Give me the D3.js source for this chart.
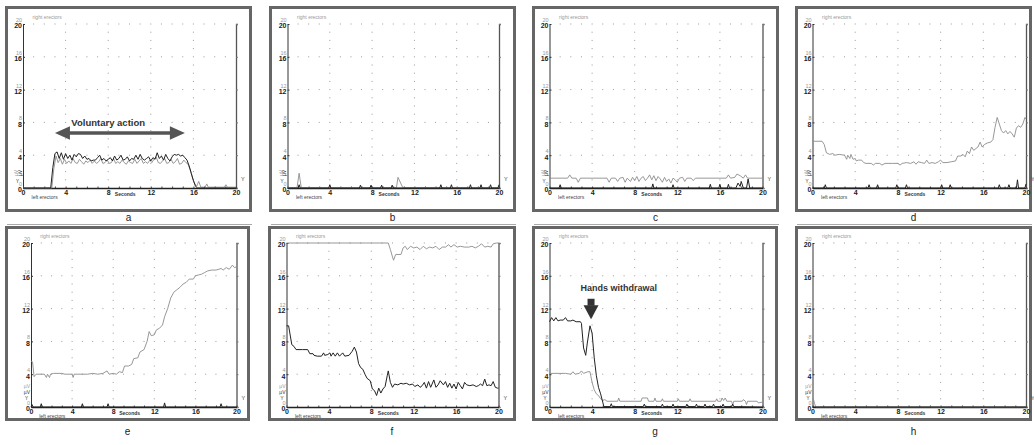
<!DOCTYPE html>
<html>
<head>
<meta charset="utf-8">
<script src="https://cdnjs.cloudflare.com/ajax/libs/d3/7.8.5/d3.min.js"></script>
<style>
body { margin: 0; background: #fff; }
svg { display: block; font-family: Arial, "Liberation Sans", sans-serif; }
</style>
</head>
<body>
<svg width="1034" height="445"></svg>
<script>
// panel letters and axis ticks
var panelLetters = ['a', 'b', 'c', 'd', 'e', 'f', 'g', 'h'];
var yTicks = [0, 4, 8, 12, 16, 20];
var xTicks = [0, 4, 8, 12, 16, 20];

// [seconds, microvolts]
var aLeft = [[0,0],[2.6,0],[2.8,2.5],[3.0,4.2],[3.2,4.4],[3.4,3.6],[3.6,4.3],[3.8,3.5],[4.0,4.2],[4.2,3.6],[4.4,4.0],[4.6,3.4],[4.8,4.1],[5.0,3.8],[5.2,4.2],[5.4,4.1],[5.6,3.6],[5.8,3.9],[6.0,3.5],[6.2,3.6],[6.4,3.3],[6.6,3.4],[6.8,3.4],[7.0,3.7],[7.2,4.0],[7.4,3.4],[7.6,3.6],[7.8,3.3],[8.0,3.5],[8.2,3.7],[8.4,3.3],[8.6,3.9],[8.8,3.4],[9.0,3.6],[9.2,4.0],[9.4,3.4],[9.6,3.5],[9.8,3.8],[10.0,3.3],[10.2,3.6],[10.4,3.5],[10.6,4.0],[10.8,3.5],[11.0,4.1],[11.2,3.6],[11.4,3.4],[11.6,3.6],[11.8,3.8],[12.0,3.3],[12.2,3.7],[12.4,3.5],[12.6,4.3],[12.8,3.6],[13.0,3.9],[13.2,3.4],[13.4,4.1],[13.6,3.6],[13.8,3.3],[14.0,3.8],[14.2,4.1],[14.4,4.0],[14.6,4.1],[14.8,3.9],[15.0,4.0],[15.2,3.7],[15.4,3.4],[15.6,2.7],[15.8,1.8],[16.0,0.9],[16.2,0.2],[16.4,0],[20,0]];
var aRight = [[0,0],[2.7,0],[2.9,2.4],[3.1,3.9],[3.3,3.1],[3.5,3.6],[3.7,2.9],[3.9,3.5],[4.1,3.0],[4.3,3.3],[4.5,3.0],[4.7,3.6],[4.9,3.1],[5.1,3.0],[5.3,3.5],[5.5,3.2],[5.7,2.9],[5.9,3.3],[6.1,3.1],[6.3,3.4],[6.5,3.0],[6.7,3.3],[6.9,3.0],[7.1,3.2],[7.3,3.6],[7.5,3.0],[7.7,3.1],[7.9,3.4],[8.1,3.0],[8.3,3.1],[8.5,3.6],[8.7,3.0],[8.9,3.2],[9.1,3.0],[9.3,3.4],[9.5,3.1],[9.7,2.9],[9.9,3.3],[10.1,3.1],[10.3,3.0],[10.5,3.5],[10.7,3.0],[10.9,3.3],[11.1,3.6],[11.3,3.0],[11.5,3.2],[11.7,3.0],[11.9,3.4],[12.1,3.1],[12.3,3.5],[12.5,3.8],[12.7,3.1],[12.9,3.0],[13.1,3.3],[13.3,3.6],[13.5,3.0],[13.7,3.1],[13.9,3.5],[14.1,3.0],[14.3,3.2],[14.5,3.6],[14.7,2.9],[14.9,3.0],[15.1,3.4],[15.3,3.1],[15.5,2.9],[15.7,2.2],[15.9,1.3],[16.1,0.6],[16.3,0.2],[16.5,0.8],[16.7,0.1],[17.1,0.1],[17.25,0.5],[17.4,0.1],[18.9,0.1],[19.05,0.4],[19.2,0.1],[20,0.1]];

var bLeft = [[0,0],[1.0,0],[1.1,0.4],[1.2,0],[3.9,0],[4.0,0.4],[4.1,0],[6.8,0],[6.9,0.35],[7.0,0],[7.8,0],[7.9,0.35],[8.0,0],[8.8,0],[8.9,0.35],[9.0,0],[9.8,0],[9.9,0.35],[10.0,0],[14.4,0],[14.5,0.4],[14.6,0],[15.4,0],[15.5,0.4],[15.6,0],[17.2,0],[17.3,0.4],[17.4,0],[18.2,0],[18.3,0.4],[18.4,0],[19.1,0],[19.2,0.4],[19.3,0],[19.9,0],[20,0.4]];
var bRight = [[0,0.05],[0.9,0.05],[1.1,1.8],[1.3,0.05],[10.3,0.05],[10.45,1.3],[10.7,0.6],[10.9,0.05],[20,0.05]];

var cLeft = [[0,0],[0.9,0],[1.0,0.4],[1.1,0],[9.6,0],[9.7,0.5],[9.8,0],[11.5,0],[11.6,0.4],[11.7,0],[15.0,0],[15.1,0.45],[15.2,0],[15.9,0],[16.0,0.45],[16.1,0],[16.7,0],[16.8,0.45],[16.9,0],[17.5,0],[17.7,0.6],[17.9,0.2],[18.0,0.8],[18.2,0],[18.5,0],[18.65,1.1],[18.8,0],[20,0]];
var cRight = [[0,1.2],[1.7,1.2],[1.9,1.6],[2.1,1.2],[2.5,1.2],[2.7,0.7],[2.9,1.2],[5.4,1.2],[5.6,0.7],[5.8,1.2],[6.2,1.2],[6.4,0.8],[6.6,1.2],[6.9,1.3],[7.1,0.7],[7.3,1.2],[7.6,0.8],[7.8,1.3],[8.0,0.9],[8.2,1.4],[8.4,0.8],[8.6,1.2],[8.8,1.4],[9.0,0.9],[9.2,1.2],[9.4,1.6],[9.6,1.0],[9.8,1.5],[10.0,0.9],[10.2,1.4],[10.4,1.1],[10.6,0.7],[10.8,1.3],[11.0,0.8],[11.2,1.1],[11.4,0.6],[11.6,1.2],[11.8,1.0],[12.0,0.7],[12.2,1.2],[12.5,1.3],[12.7,0.8],[12.9,1.2],[13.3,1.2],[13.5,0.9],[13.7,1.2],[16.6,1.2],[16.8,1.6],[17.0,1.2],[17.4,1.3],[17.6,1.7],[17.9,1.5],[18.2,1.2],[18.4,1.6],[18.6,1.2],[20,1.2]];

var dLeft = [[0,0],[1.1,0],[1.2,0.4],[1.3,0],[5.2,0],[5.3,0.4],[5.4,0],[6.0,0],[6.1,0.4],[6.2,0],[7.8,0],[7.9,0.4],[8.0,0],[8.7,0],[8.8,0.4],[8.9,0],[12.0,0],[12.1,0.4],[12.2,0],[12.8,0],[12.9,0.4],[13.0,0],[17.4,0],[17.5,0.4],[17.6,0],[18.3,0],[18.4,0.4],[18.5,0],[19.1,0],[19.2,1.0],[19.3,0],[19.9,0],[20,0.5]];
var dRight = [[0,5.7],[0.9,5.7],[1.1,5.3],[1.3,4.3],[1.6,4.1],[1.9,4.2],[2.1,4.0],[2.5,4.1],[3.0,4.0],[3.2,3.5],[3.3,4.0],[3.5,3.6],[3.6,4.1],[3.8,3.5],[4.0,3.6],[4.1,3.3],[4.3,3.4],[4.6,3.4],[4.8,3.1],[5.0,3.0],[5.5,3.0],[5.7,2.8],[5.9,3.0],[6.3,3.0],[6.5,2.8],[6.8,3.0],[7.5,3.0],[8.0,3.0],[8.2,2.8],[8.4,3.0],[8.8,3.1],[9.2,3.0],[9.5,3.2],[9.7,2.9],[9.9,3.2],[10.2,3.1],[10.5,3.0],[10.7,3.4],[10.9,3.0],[11.2,3.1],[11.5,3.0],[11.8,3.2],[12.0,3.4],[12.2,3.1],[12.6,3.1],[13.0,3.2],[13.4,3.3],[13.6,3.9],[13.9,3.9],[14.1,4.1],[14.3,3.8],[14.5,4.5],[14.7,4.2],[14.9,5.0],[15.1,4.6],[15.3,4.8],[15.5,5.0],[15.7,5.6],[15.9,5.0],[16.1,5.3],[16.4,5.5],[16.7,5.6],[16.9,5.9],[17.1,7.4],[17.3,8.6],[17.5,7.8],[17.7,7.0],[17.9,6.7],[18.1,7.0],[18.3,6.6],[18.5,6.9],[18.7,6.6],[18.9,6.2],[19.1,7.3],[19.3,7.6],[19.5,7.4],[19.7,7.8],[19.9,8.6],[20,8.4]];

var eLeft = [[0,0],[0.1,0.3],[0.2,0],[0.9,0],[1.0,0.4],[1.1,0],[4.9,0],[5.0,0.4],[5.1,0],[7.4,0],[7.5,0.4],[7.6,0],[12.9,0],[13.0,0.5],[13.1,0],[18.4,0],[18.5,0.4],[18.6,0],[20,0]];
var eRight = [[0,5.6],[0.15,5.5],[0.3,3.7],[0.5,4.0],[1.3,4.0],[1.5,3.6],[1.6,4.0],[1.8,3.6],[1.9,4.0],[2.2,4.1],[3.0,4.1],[3.3,4.0],[4.0,4.0],[4.1,3.6],[4.2,4.0],[5.0,4.0],[5.5,4.0],[6.0,4.1],[6.5,4.0],[7.0,4.1],[7.4,4.4],[7.6,4.0],[8.0,4.1],[8.3,4.0],[8.6,4.3],[8.9,4.2],[9.1,5.0],[9.5,5.0],[9.8,5.2],[10.0,5.9],[10.4,6.0],[10.6,6.7],[11.0,7.0],[11.3,8.0],[11.5,9.2],[11.7,8.7],[12.0,8.8],[12.2,9.4],[12.5,9.6],[12.8,10.0],[13.0,11.0],[13.3,12.0],[13.6,13.3],[13.9,14.0],[14.2,14.3],[14.5,14.6],[14.8,15.0],[15.1,15.2],[15.4,15.6],[15.8,15.6],[16.0,16.0],[16.3,16.1],[16.6,16.2],[16.9,16.4],[17.2,16.6],[17.6,16.7],[18.0,16.7],[18.3,16.8],[18.5,16.9],[18.7,16.7],[19.0,17.0],[19.3,16.8],[19.6,17.3],[19.8,17.0],[20,17.1]];

var fLeft = [[0,9.9],[0.2,9.9],[0.5,7.6],[0.7,7.4],[0.9,7.0],[1.5,7.0],[2.0,7.0],[2.2,6.5],[2.5,6.5],[2.6,6.3],[2.9,6.2],[3.3,6.2],[3.5,6.6],[3.6,6.3],[3.9,6.4],[4.1,6.6],[4.2,6.2],[4.4,6.6],[4.6,6.2],[4.8,6.6],[5.0,6.2],[5.3,6.6],[5.5,6.2],[5.9,6.3],[6.2,6.8],[6.4,7.3],[6.6,6.7],[6.8,5.3],[7.0,4.8],[7.2,4.6],[7.4,4.0],[7.6,3.5],[7.9,3.2],[8.1,2.2],[8.3,2.0],[8.5,1.4],[8.7,2.3],[8.9,1.7],[9.1,2.2],[9.3,2.5],[9.5,3.8],[9.6,4.4],[9.8,3.0],[10.0,2.4],[10.2,2.8],[10.5,2.7],[10.8,2.9],[11.0,2.8],[11.3,2.9],[11.6,2.7],[11.9,2.8],[12.1,2.5],[12.4,2.7],[12.6,2.4],[12.8,2.6],[13.0,3.0],[13.2,2.3],[13.4,3.1],[13.6,2.4],[13.9,3.3],[14.1,2.4],[14.3,2.7],[14.5,3.2],[14.8,2.7],[15.0,3.1],[15.2,2.4],[15.4,2.9],[15.6,2.3],[15.8,2.8],[16.0,2.2],[16.2,3.0],[16.4,2.6],[16.6,2.2],[16.8,3.0],[17.0,2.7],[17.3,2.6],[17.6,2.7],[17.9,2.5],[18.1,2.6],[18.3,2.8],[18.5,2.6],[18.7,3.4],[18.9,2.6],[19.1,2.7],[19.3,2.6],[19.5,3.1],[19.7,2.4],[19.9,2.3],[20,2.3]];
var fRight = [[0,20],[9.6,20],[9.8,19.2],[10.0,18.3],[10.1,17.9],[10.3,18.6],[10.8,18.6],[11.0,19.4],[11.2,19.6],[11.4,19.2],[11.7,19.6],[12.0,19.4],[12.3,19.5],[12.6,19.2],[12.9,19.6],[13.2,19.3],[13.5,19.5],[13.8,19.4],[14.1,19.6],[14.4,19.2],[14.7,19.5],[15.0,19.5],[15.3,19.8],[15.5,19.5],[15.8,19.8],[16.1,19.5],[16.4,19.6],[16.8,19.5],[17.2,19.5],[17.5,19.6],[17.8,19.4],[18.1,19.6],[18.4,19.9],[18.7,19.5],[19.0,19.6],[19.3,19.5],[19.5,19.9],[19.8,20],[20,20]];

var gLeft = [[0,10.4],[0.2,10.9],[0.4,10.5],[0.6,10.9],[0.8,10.5],[1.0,10.6],[1.3,10.6],[1.5,10.9],[1.7,10.5],[2.0,10.5],[2.2,10.6],[2.5,10.4],[2.9,10.4],[3.0,10.2],[3.2,7.2],[3.4,6.3],[3.55,7.8],[3.8,9.9],[4.0,9.0],[4.2,6.0],[4.4,3.8],[4.6,2.4],[4.8,1.6],[5.0,0.6],[5.1,0.05],[5.7,0.05],[5.8,0.4],[5.9,0.05],[8.8,0.05],[8.9,0.35],[9.0,0.05],[10.5,0.05],[10.6,0.35],[10.7,0.05],[11.5,0.05],[11.6,0.35],[11.7,0.05],[12.8,0.05],[12.9,0.35],[13.0,0.05],[13.7,0.05],[13.8,0.35],[13.9,0.05],[14.5,0.05],[14.6,0.35],[14.7,0.05],[15.3,0.05],[15.4,0.35],[15.5,0.05],[16.2,0.05],[16.3,0.35],[16.4,0.05],[17.1,0.05],[17.2,0.35],[17.3,0.05],[20,0]];
var gRight = [[0,4.1],[1.5,4.1],[2.0,4.0],[2.2,4.3],[2.4,4.0],[2.8,4.1],[3.0,4.4],[3.2,4.1],[3.6,4.3],[3.8,4.3],[4.0,3.0],[4.2,2.1],[4.4,1.6],[4.6,1.4],[4.8,1.0],[5.0,0.8],[5.2,0.9],[5.4,0.7],[6.4,0.7],[6.5,1.1],[6.6,0.7],[8.6,0.7],[8.7,1.1],[9.2,1.1],[9.3,0.7],[9.8,0.7],[9.9,1.1],[10.0,0.7],[10.5,0.7],[10.6,1.0],[10.7,0.7],[12.0,0.7],[12.1,1.0],[12.2,0.7],[13.1,0.7],[13.2,1.0],[13.3,0.7],[15.6,0.7],[15.7,1.0],[15.8,0.7],[16.1,0.7],[16.2,1.1],[16.35,0.8],[16.5,1.1],[16.65,0.7],[17.1,0.7],[17.2,0.2],[17.3,0.7],[18.1,0.7],[18.2,0.9],[18.4,0.7],[18.5,0.3],[18.6,0.7],[19.5,0.7],[19.6,0.5],[20,0.6]];

var hLeft = [[0,0],[20,0]];
var hRight = [[0,1.1],[0.1,0.9],[0.2,0.4],[0.3,0],[20,0]];

var leftSeries = [aLeft, bLeft, cLeft, dLeft, eLeft, fLeft, gLeft, hLeft];
var rightSeries = [aRight, bRight, cRight, dRight, eRight, fRight, gRight, hRight];

// frame box and plot area of each panel
var panels = [
  {fx: 5,   fy: 6,   fw: 247, fh: 206, x0: 23,    x1: 236,   top: 24,  bot: 188, row: 0},
  {fx: 269, fy: 6,   fw: 247, fh: 206, x0: 287.5, x1: 499,   top: 24,  bot: 188, row: 0},
  {fx: 532, fy: 6,   fw: 247, fh: 206, x0: 549.5, x1: 762.5, top: 24,  bot: 188, row: 0},
  {fx: 795, fy: 6,   fw: 237, fh: 206, x0: 812.5, x1: 1026,  top: 24,  bot: 188, row: 0},
  {fx: 5,   fy: 226, fw: 245, fh: 195, x0: 31,    x1: 236.5, top: 243, bot: 407, row: 1},
  {fx: 268, fy: 226, fw: 248, fh: 195, x0: 286.5, x1: 498.5, top: 243, bot: 407, row: 1},
  {fx: 532, fy: 226, fw: 246, fh: 195, x0: 549.5, x1: 762.5, top: 243, bot: 407, row: 1},
  {fx: 795, fy: 226, fw: 237, fh: 195, x0: 812.5, x1: 1026,  top: 243, bot: 407, row: 1}
];

var svg = d3.select('svg');

panels.forEach(function(p, i) {
  var g = svg.append('g');
  var x = d3.scaleLinear().domain([0, 20]).range([p.x0, p.x1]);
  var y = d3.scaleLinear().domain([0, 20]).range([p.bot, p.top]);

  g.append('rect')
    .attr('x', p.fx + 1.5).attr('y', p.fy + 1.5)
    .attr('width', p.fw - 3).attr('height', p.fh - 3)
    .attr('fill', 'none').attr('stroke', '#666').attr('stroke-width', 3);

  // panel letter
  g.append('text')
    .attr('x', p.fx + p.fw / 2).attr('y', p.fy + p.fh + (p.row === 0 ? 9 : 14))
    .attr('text-anchor', 'middle').attr('font-size', 10).attr('fill', '#222')
    .text(panelLetters[i]);
  if (p.row === 0) {
    g.append('line')
      .attr('x1', p.fx + 2).attr('x2', p.fx + p.fw)
      .attr('y1', 224.5).attr('y2', 224.5)
      .attr('stroke', '#aaa').attr('stroke-width', 1);
  }

  // dotted grid
  var dots = [];
  yTicks.slice(1).forEach(function(v) {
    d3.range(1, 20).forEach(function(t) { dots.push([t, v]); });
  });
  xTicks.slice(1, 5).forEach(function(t) {
    d3.range(1, 20).forEach(function(v) { if (v % 4) dots.push([t, v]); });
  });
  g.selectAll('rect.dot').data(dots).enter().append('rect')
    .attr('class', 'dot')
    .attr('x', function(d) { return x(d[0]) - 0.5; })
    .attr('y', function(d) { return y(d[1]) - 0.5; })
    .attr('width', 1).attr('height', 1)
    .attr('fill', '#9a9a9a');

  // right axis
  var ra = g.append('g').attr('transform', 'translate(' + p.x1 + ',0)')
    .call(d3.axisRight(y).tickValues(yTicks).tickSize(2).tickFormat(''));
  ra.select('.domain').attr('stroke', '#555').attr('stroke-width', 1.3);
  ra.selectAll('.tick line').attr('stroke', '#777');
  g.append('text').attr('x', p.x1 + 5).attr('y', p.bot - 7)
    .attr('font-size', 5.5).attr('fill', '#444').text('Y');

  // left axis, black labels for left erectors
  var la = g.append('g').attr('transform', 'translate(' + p.x0 + ',0)')
    .call(d3.axisLeft(y).tickValues(yTicks).tickSizeInner(-2).tickSizeOuter(0).tickPadding(1));
  la.select('.domain').attr('stroke', '#333').attr('stroke-width', 1);
  la.selectAll('.tick line').attr('stroke', '#333');
  la.selectAll('.tick text')
    .attr('font-size', 7).attr('font-weight', 'bold').attr('fill', '#222')
    .attr('font-family', 'Arial, "Liberation Sans", sans-serif')
    .attr('dy', '0.55em');
  // gray labels for right erectors
  g.selectAll('text.rlab').data(yTicks).enter().append('text')
    .attr('class', 'rlab')
    .attr('x', p.x0 - 1).attr('y', function(d) { return y(d) - 2; })
    .attr('text-anchor', 'end').attr('font-size', 5.5).attr('fill', '#999')
    .text(function(d) { return d; });

  // unit marks
  if (p.row === 0) {
    g.append('text').attr('transform', 'translate(' + (p.x0 - 5) + ',' + (p.bot - 15) + ') rotate(-90)')
      .attr('text-anchor', 'middle').attr('font-size', 5).attr('fill', '#999').text('µV');
    g.append('text').attr('transform', 'translate(' + (p.x0 - 1.5) + ',' + (p.bot - 15) + ') rotate(-90)')
      .attr('text-anchor', 'middle').attr('font-size', 5).attr('fill', '#333').text('µV');
    g.append('text').attr('x', p.x0 - 4).attr('y', p.bot - 5)
      .attr('text-anchor', 'end').attr('font-size', 4.5).attr('fill', '#333').text('Y');
  } else {
    g.append('text').attr('x', p.x0 - 1).attr('y', p.bot - 19)
      .attr('text-anchor', 'end').attr('font-size', 5).attr('fill', '#999').text('µV');
    g.append('text').attr('x', p.x0 - 1).attr('y', p.bot - 13)
      .attr('text-anchor', 'end').attr('font-size', 5).attr('fill', '#333').text('µV');
    g.append('text').attr('x', p.x0 - 3).attr('y', p.bot - 7)
      .attr('text-anchor', 'end').attr('font-size', 4.5).attr('fill', '#333').text('Y');
  }

  // bottom axis
  var xa = g.append('g').attr('transform', 'translate(0,' + p.bot + ')')
    .call(d3.axisBottom(x).tickValues(d3.range(0, 21)).tickSizeInner(-1.5).tickSizeOuter(0).tickPadding(2)
      .tickFormat(function(d) { return xTicks.indexOf(d) >= 0 ? d : ''; }));
  xa.select('.domain').attr('stroke', '#222').attr('stroke-width', 1.3);
  xa.selectAll('.tick line').attr('stroke', '#444');
  xa.selectAll('.tick text')
    .attr('font-size', 7).attr('font-weight', 'bold').attr('fill', '#222')
    .attr('font-family', 'Arial, "Liberation Sans", sans-serif');

  g.append('text').attr('x', x(9.6)).attr('y', p.bot + 7.5)
    .attr('text-anchor', 'middle').attr('font-size', 5).attr('font-weight', 'bold').attr('fill', '#333')
    .text('Seconds');
  g.append('text').attr('x', x(0.8)).attr('y', p.bot + 11)
    .attr('font-size', 5).attr('fill', '#444').text('left erectors');
  g.append('text').attr('x', x(0.9)).attr('y', p.top - 5)
    .attr('font-size', 5).attr('fill', '#999').text('right erectors');

  // traces
  var line = d3.line()
    .x(function(d) { return x(d[0]); })
    .y(function(d) { return y(d[1]); });
  g.append('path').datum(rightSeries[i])
    .attr('d', line).attr('fill', 'none')
    .attr('stroke', '#8c8c8c').attr('stroke-width', 0.9);
  g.append('path').datum(leftSeries[i])
    .attr('d', line).attr('fill', 'none')
    .attr('stroke', '#222').attr('stroke-width', 1);

  // annotations
  if (i === 0) {
    var ay = y(6.7);
    var xl = x(3.0), xr = x(15.2);
    g.append('line').attr('x1', xl + 12).attr('x2', xr - 12).attr('y1', ay).attr('y2', ay)
      .attr('stroke', '#555').attr('stroke-width', 3.5);
    g.append('path').attr('fill', '#555')
      .attr('d', 'M' + xl + ',' + ay + 'L' + (xl + 15) + ',' + (ay - 6.7) + 'L' + (xl + 15) + ',' + (ay + 6.7) + 'Z');
    g.append('path').attr('fill', '#555')
      .attr('d', 'M' + xr + ',' + ay + 'L' + (xr - 15) + ',' + (ay - 6.7) + 'L' + (xr - 15) + ',' + (ay + 6.7) + 'Z');
    g.append('text').attr('x', x(8)).attr('y', y(7.6))
      .attr('text-anchor', 'middle').attr('font-size', 9.5).attr('font-weight', 'bold').attr('fill', '#333')
      .text('Voluntary action');
  }
  if (i === 6) {
    var ax = x(3.9);
    var yt = y(13.2), yb = y(10.7);
    g.append('rect').attr('x', ax - 3.5).attr('y', yt).attr('width', 7).attr('height', 7)
      .attr('fill', '#333');
    g.append('path').attr('fill', '#333')
      .attr('d', 'M' + (ax - 7.5) + ',' + (yt + 6.5) + 'L' + (ax + 7.5) + ',' + (yt + 6.5) + 'L' + ax + ',' + yb + 'Z');
    g.append('text').attr('x', x(6.5)).attr('y', y(14.2))
      .attr('text-anchor', 'middle').attr('font-size', 9).attr('font-weight', 'bold').attr('fill', '#333')
      .text('Hands withdrawal');
  }
});
</script>
</body>
</html>
